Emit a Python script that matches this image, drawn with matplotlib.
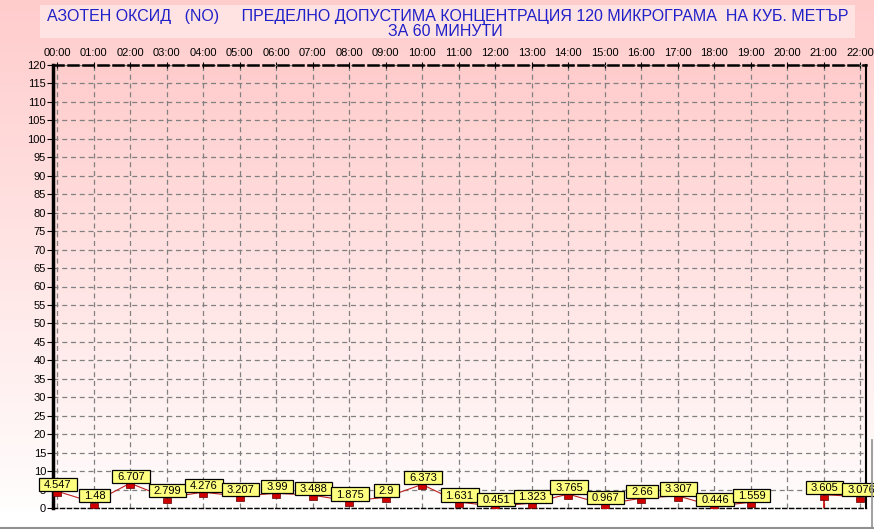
import numpy as np
import matplotlib
matplotlib.use("Agg")
import matplotlib.pyplot as plt
from matplotlib.path import Path
from matplotlib.lines import Line2D
from matplotlib.patches import Rectangle

plt.rcParams['font.family'] = ['Liberation Sans', 'DejaVu Sans']

hours = ["00:00", "01:00", "02:00", "03:00", "04:00", "05:00", "06:00", "07:00",
         "08:00", "09:00", "10:00", "11:00", "12:00", "13:00", "14:00", "15:00",
         "16:00", "17:00", "18:00", "19:00", "20:00", "21:00", "22:00"]
values = [4.547, 1.48, 6.707, 2.799, 4.276, 3.207, 3.99, 3.488, 1.875, 2.9, 6.373,
          1.631, 0.451, 1.323, 3.765, 0.967, 2.66, 3.307, 0.446, 1.559, None, 3.605, 3.076]
title_line1 = "АЗОТЕН ОКСИД   (NO)     ПРЕДЕЛНО ДОПУСТИМА КОНЦЕНТРАЦИЯ 120 МИКРОГРАМА  НА КУБ. МЕТЪР"
title_line2 = "ЗА 60 МИНУТИ"

x = np.arange(len(hours))
y = np.array([np.nan if v is None else v for v in values])


def label_box(x0, y0, width, height, mutation_size):
    # wide, flat box like the original data labels
    px = 0.45 * mutation_size
    bottom = y0 - 0.1 * mutation_size
    top = y0 + height + 0.2 * mutation_size
    return Path([(x0 - px, bottom), (x0 + width + px, bottom), (x0 + width + px, top),
                 (x0 - px, top), (x0 - px, bottom)], closed=True)


fig = plt.figure(figsize=(8.74, 5.29), dpi=100)

# figure background gradient (pink -> white)
bg = fig.add_axes([0, 0, 1, 1], zorder=-10)
grad = np.linspace(0, 1, 256).reshape(-1, 1)
top_c = np.array([1.0, 0.80, 0.80])
bot_c = np.array([1.0, 1.0, 1.0])
img = top_c + (bot_c - top_c) * grad[..., None] * np.ones((1, 1, 3))
bg.imshow(img, aspect='auto', extent=[0, 1, 0, 1], origin='upper')
bg.add_patch(Rectangle((0, 0), 1, 0.035, color='white', transform=bg.transAxes))
bg.add_patch(Rectangle((40 / 874, 1 - 38 / 529), 815 / 874, 33 / 529,
                       facecolor='#ffe2e2', edgecolor='none', transform=bg.transAxes))
bg.set_axis_off()

fig.text(448 / 874, 1 - 16 / 529, title_line1, ha='center', va='center',
         fontsize=11.5, color='#2020c8')
fig.text(445 / 874, 1 - 31 / 529, title_line2, ha='center', va='center',
         fontsize=11.5, color='#2020c8')

ax = fig.add_axes([53 / 874, 1 - 508 / 529, 813 / 874, 443 / 529])
ax.set_xlim(-0.11, 22.16)
ax.set_ylim(0, 120)

p_top = np.array([1.0, 0.80, 0.80])
p_bot = np.array([1.0, 0.99, 0.99])
pimg = p_top + (p_bot - p_top) * grad[..., None] * np.ones((1, 1, 3))
ax.imshow(pimg, aspect='auto', extent=[-0.11, 22.16, 0, 120], origin='upper', zorder=0)

ax.set_xticks(x)
ax.set_xticklabels(hours)
ax.set_yticks(np.arange(0, 121, 5))
ax.xaxis.tick_top()
ax.tick_params(axis='x', direction='inout', length=4, width=0.8, labelsize=8, pad=3)
ax.tick_params(axis='y', direction='out', length=4, width=0.8, labelsize=8, pad=1)
ax.grid(True, color='#808080', linestyle=(0, (4, 3)), linewidth=0.9, zorder=1)

ax.spines['left'].set_linewidth(2.5)
ax.spines['right'].set_linewidth(1.5)
ax.spines['top'].set_linestyle((0, (4, 2)))
ax.spines['top'].set_linewidth(1.8)
ax.spines['bottom'].set_linestyle((0, (3, 2)))
ax.spines['bottom'].set_linewidth(1.0)

ax.plot(x, y, color='#c02020', linewidth=0.8, zorder=3)
# point after the gap gets a drop line
for i in range(1, len(y)):
    if np.isnan(y[i - 1]) and not np.isnan(y[i]):
        ax.vlines(x[i], 0, y[i], color='#d00000', linewidth=1.2, zorder=3)

marker = Path([(-1, 0), (1, 0), (1, -1.3), (-1, -1.3), (-1, 0)],
              [Path.MOVETO, Path.LINETO, Path.LINETO, Path.LINETO, Path.CLOSEPOLY])
ax.plot(x, y, linestyle='none', marker=marker, markersize=7.5, markerfacecolor='#d00000',
        markeredgecolor='#600000', markeredgewidth=0.5, zorder=4)

for xi, yi, v in zip(x, y, values):
    if v is None:
        continue
    ax.annotate(f"{v:g}", (xi, yi), xytext=(0.7, 1.0), textcoords='offset points',
                ha='center', va='bottom', fontsize=8, zorder=5, annotation_clip=False,
                bbox=dict(boxstyle=label_box, facecolor='#ffff80',
                          edgecolor='black', linewidth=0.9))

# window frame lines
fig.add_artist(Line2D([0, 1], [1.5 / 529, 1.5 / 529], color='#909090', linewidth=1.5))
fig.add_artist(Line2D([872 / 874, 872 / 874], [1.5 / 529, 1 - 440 / 529], color='#909090', linewidth=1.2))

fig.savefig("out.png", dpi=100)
